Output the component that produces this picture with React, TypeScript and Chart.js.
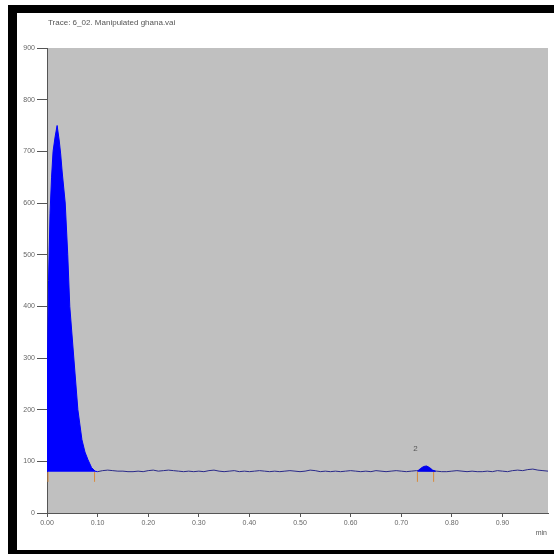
import React, { useEffect, useRef } from "react";
import { Chart, registerables } from "chart.js";

Chart.register(...registerables);

const titleText = "Trace: 6_02. Manipulated ghana.vai";
const xAxisLabel = "min";
const xTickValues = [0, 0.1, 0.2, 0.3, 0.4, 0.5, 0.6, 0.7, 0.8, 0.9];
const yTickStep = 100;
const xMax = 0.99;
const yMax = 900;
const baselineValue = 80;

// Peak 1 (filled)
const peak1X = [0.0, 0.001, 0.003, 0.006, 0.009, 0.012, 0.016, 0.02, 0.024, 0.027, 0.03, 0.036, 0.041, 0.045, 0.053, 0.061, 0.069, 0.075, 0.081, 0.088, 0.095, 0.1];
const peak1Y = [80, 300, 450, 580, 650, 700, 728, 750, 722, 695, 660, 600, 500, 400, 300, 200, 142, 118, 103, 88, 81, 80];

// Peak 2 (filled)
const peak2X = [0.732, 0.738, 0.744, 0.75, 0.756, 0.762, 0.768];
const peak2Y = [81, 86, 90, 91, 88, 83, 81];

// Baseline trace
const traceX = [0.1, 0.11, 0.12, 0.13, 0.14, 0.15, 0.16, 0.17, 0.18, 0.19, 0.2, 0.21, 0.22, 0.23, 0.24, 0.25, 0.26, 0.27, 0.28, 0.29, 0.3, 0.31, 0.32, 0.33, 0.34, 0.35, 0.36, 0.37, 0.38, 0.39, 0.4, 0.41, 0.42, 0.43, 0.44, 0.45, 0.46, 0.47, 0.48, 0.49, 0.5, 0.51, 0.52, 0.53, 0.54, 0.55, 0.56, 0.57, 0.58, 0.59, 0.6, 0.61, 0.62, 0.63, 0.64, 0.65, 0.66, 0.67, 0.68, 0.69, 0.7, 0.71, 0.72, 0.73, 0.77, 0.78, 0.79, 0.8, 0.81, 0.82, 0.83, 0.84, 0.85, 0.86, 0.87, 0.88, 0.89, 0.9, 0.91, 0.92, 0.93, 0.94, 0.95, 0.96, 0.97, 0.98, 0.99];
const traceY = [80, 82, 83, 82, 81, 81, 80, 80, 81, 80, 82, 83, 81, 82, 83, 82, 81, 80, 81, 80, 81, 80, 82, 83, 81, 80, 81, 82, 80, 81, 80, 81, 82, 81, 80, 81, 80, 81, 82, 81, 80, 81, 83, 82, 80, 81, 80, 81, 80, 81, 82, 81, 80, 81, 80, 82, 81, 80, 81, 82, 81, 80, 81, 82, 81, 80, 80, 81, 82, 81, 80, 81, 80, 80, 81, 80, 82, 81, 80, 82, 83, 82, 84, 85, 83, 82, 81];

// Integration markers
const markerX = [0.002, 0.094, 0.732, 0.764];
const markerY = [70, 70, 70, 70];

// Peak labels
const peakLabelX = [0.728];
const peakLabelY = [124];
const peakLabelText = ["2"];

const zip = (xs: number[], ys: number[]) => xs.map((x, i) => ({ x, y: ys[i] }));

export default function App() {
  const ref = useRef<HTMLCanvasElement | null>(null);

  useEffect(() => {
    if (!ref.current) return;

    const bgPlugin = {
      id: "bgPlugin",
      beforeDraw(chart: any) {
        const { ctx, chartArea } = chart;
        ctx.save();
        ctx.fillStyle = "#c0c0c0";
        ctx.fillRect(chartArea.left, chartArea.top, chartArea.right - chartArea.left, chartArea.bottom - chartArea.top);
        ctx.restore();
      },
      afterDraw(chart: any) {
        const { ctx, chartArea } = chart;
        ctx.save();
        ctx.fillStyle = "#555";
        ctx.font = "8px 'Liberation Sans', Arial, sans-serif";
        ctx.textBaseline = "middle";
        ctx.textAlign = "left";
        ctx.fillText(titleText, 48, 23);
        const xs = chart.scales.x;
        const ys = chart.scales.y;
        ctx.textAlign = "center";
        peakLabelText.forEach((t, i) => {
          ctx.fillText(t, xs.getPixelForValue(peakLabelX[i]), ys.getPixelForValue(peakLabelY[i]));
        });
        ctx.font = "7px 'Liberation Sans', Arial, sans-serif";
        ctx.textAlign = "right";
        ctx.fillText(xAxisLabel, chartArea.right - 1, chartArea.bottom + 20);
        ctx.restore();
      },
    };

    const tickFont = { size: 7, family: "'Liberation Sans', Arial, sans-serif" };

    const chart = new Chart(ref.current, {
      type: "line",
      data: {
        datasets: [
          {
            data: zip(peak1X, peak1Y),
            borderColor: "#0000ff",
            backgroundColor: "#0000ff",
            borderWidth: 1,
            pointRadius: 0,
            fill: { value: baselineValue },
            tension: 0,
          },
          {
            data: zip(peak2X, peak2Y),
            borderColor: "#0000ee",
            backgroundColor: "#0000ee",
            borderWidth: 1,
            pointRadius: 0,
            fill: { value: baselineValue },
            tension: 0,
          },
          {
            data: zip(traceX, traceY),
            borderColor: "#2a2a8a",
            borderWidth: 1,
            pointRadius: 0,
            fill: false,
            tension: 0,
          },
          {
            data: zip(markerX, markerY),
            showLine: false,
            pointStyle: "line",
            rotation: 90,
            pointRadius: 5,
            pointBorderColor: "#d98a3a",
            pointBorderWidth: 1,
            borderColor: "#d98a3a",
          } as any,
        ],
      },
      options: {
        animation: false,
        responsive: false,
        devicePixelRatio: 1,
        layout: { padding: { top: 48, right: 5, left: 0, bottom: 0 } },
        plugins: {
          legend: { display: false },
          tooltip: { enabled: false },
          title: { display: false },
        },
        scales: {
          x: {
            type: "linear",
            min: 0,
            max: xMax,
            afterBuildTicks: (scale: any) => {
              scale.ticks = xTickValues.map((v) => ({ value: v }));
            },
            afterFit: (scale: any) => {
              scale.height = 41;
            },
            grid: { drawOnChartArea: false, drawTicks: true, tickLength: 4, color: "#555" },
            border: { display: true, color: "#555", width: 1 },
            ticks: {
              font: tickFont,
              color: "#666",
              padding: 2,
              maxRotation: 0,
              autoSkip: false,
              callback: (v: any) => Number(v).toFixed(2),
            },
          },
          y: {
            min: 0,
            max: yMax,
            afterFit: (scale: any) => {
              scale.width = 47;
            },
            grid: { drawOnChartArea: false, drawTicks: true, tickLength: 10, color: "#555" },
            border: { display: true, color: "#555", width: 1 },
            ticks: {
              stepSize: yTickStep,
              font: tickFont,
              color: "#666",
              padding: 2,
            },
          },
        },
      },
      plugins: [bgPlugin],
    } as any);

    return () => chart.destroy();
  }, []);

  return (
    <div style={{ position: "fixed", left: 0, top: 0, width: 554, height: 554, background: "#fff", overflow: "hidden" }}>
      <div style={{ position: "absolute", left: 8, top: 5, width: 546, height: 8, background: "#000" }} />
      <div style={{ position: "absolute", left: 8, top: 5, width: 9, height: 549, background: "#000" }} />
      <div style={{ position: "absolute", left: 8, top: 550, width: 546, height: 4, background: "#000" }} />
      <canvas ref={ref} width={554} height={554} style={{ position: "absolute", left: 0, top: 0, width: 554, height: 554 }} />
    </div>
  );
}
